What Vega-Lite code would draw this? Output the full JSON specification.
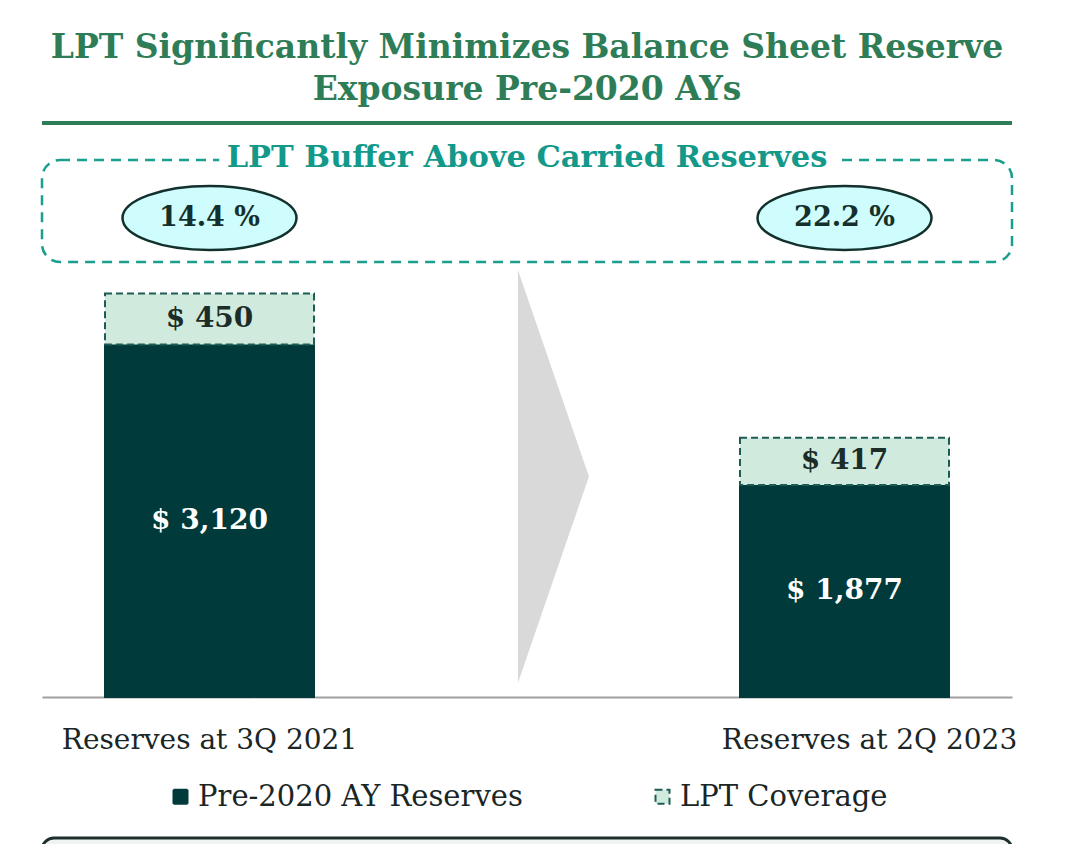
{
  "$schema": "https://vega.github.io/schema/vega-lite/v6.json",
  "autosize": {"type": "none"},
  "padding": {"left": 42, "top": 123, "right": 64, "bottom": 147},
  "width": 970,
  "height": 574,
  "background": "white",
  "title": {
    "text": ["LPT Significantly Minimizes Balance Sheet Reserve", "Exposure Pre-2020 AYs"],
    "font": "DejaVu Serif",
    "fontSize": 33,
    "fontWeight": "bold",
    "color": "#2e7d57",
    "anchor": "middle",
    "offset": 14,
    "lineHeight": 42
  },
  "datasets": {
    "reserves": [
      {"period": "Reserves at 3Q 2021", "series": "Pre-2020 AY Reserves", "rank": 1, "amount": 3120},
      {"period": "Reserves at 3Q 2021", "series": "LPT Coverage", "rank": 2, "amount": 450},
      {"period": "Reserves at 2Q 2023", "series": "Pre-2020 AY Reserves", "rank": 1, "amount": 1877},
      {"period": "Reserves at 2Q 2023", "series": "LPT Coverage", "rank": 2, "amount": 417}
    ],
    "buffer": [
      {"period": "Reserves at 3Q 2021", "pct": 0.144},
      {"period": "Reserves at 2Q 2023", "pct": 0.222}
    ],
    "notes": [
      {"period": " ", "label": "LPT Buffer Above Carried Reserves"}
    ]
  },
  "layer": [
    {
      "data": {"name": "notes"},
      "mark": {"type": "rect", "fill": "#eef4f0", "stroke": "#1f2f2d", "strokeWidth": 3, "cornerRadius": 12, "xOffset": 0, "x2Offset": 18},
      "encoding": {
        "y": {"datum": -1248, "type": "quantitative", "axis": null, "scale": {"domain": [0, 5080], "nice": false, "zero": false}},
        "y2": {"datum": -1600}
      }
    },
    {
      "data": {"name": "notes"},
      "mark": {"type": "rule", "stroke": "#2e7d57", "strokeWidth": 4},
      "encoding": {
        "y": {"datum": 5080, "type": "quantitative", "axis": null, "scale": {"domain": [0, 5080], "nice": false, "zero": false}}
      }
    },
    {
      "data": {"name": "notes"},
      "mark": {"type": "rect", "fill": "transparent", "stroke": "#1a9e8e", "strokeWidth": 2.5, "strokeDash": [10, 7], "cornerRadius": 18},
      "encoding": {
        "y": {"datum": 3850, "type": "quantitative", "axis": null, "scale": {"domain": [0, 5080], "nice": false, "zero": false}},
        "y2": {"datum": 4752}
      }
    },
    {
      "data": {"name": "notes"},
      "mark": {"type": "text", "font": "DejaVu Serif", "fontSize": 30.5, "fontWeight": "bold", "fill": "white", "stroke": "white", "strokeWidth": 18, "baseline": "middle", "align": "center"},
      "encoding": {
        "x": {"field": "period", "type": "nominal", "scale": {"domain": ["Reserves at 3Q 2021", " ", "Reserves at 2Q 2023"]}},
        "y": {"datum": 4770, "type": "quantitative", "axis": null, "scale": {"domain": [0, 5080], "nice": false, "zero": false}},
        "text": {"field": "label"}
      }
    },
    {
      "data": {"name": "notes"},
      "mark": {"type": "text", "font": "DejaVu Serif", "fontSize": 30.5, "fontWeight": "bold", "fill": "#13998a", "baseline": "middle", "align": "center"},
      "encoding": {
        "x": {"field": "period", "type": "nominal", "scale": {"domain": ["Reserves at 3Q 2021", " ", "Reserves at 2Q 2023"]}},
        "y": {"datum": 4770, "type": "quantitative", "axis": null, "scale": {"domain": [0, 5080], "nice": false, "zero": false}},
        "text": {"field": "label"}
      }
    },
    {
      "data": {"name": "notes"},
      "mark": {"type": "point", "shape": "M-0.044,-1L0.3,0L-0.044,1Z", "size": 170569, "filled": true, "fill": "#d9d9d9", "opacity": 1, "strokeWidth": 0},
      "encoding": {
        "x": {"field": "period", "type": "nominal", "scale": {"domain": ["Reserves at 3Q 2021", " ", "Reserves at 2Q 2023"]}},
        "y": {"datum": 1951, "type": "quantitative", "axis": null, "scale": {"domain": [0, 5080], "nice": false, "zero": false}}
      }
    },
    {
      "data": {"name": "reserves"},
      "mark": {"type": "bar", "strokeWidth": 2, "opacity": 1},
      "encoding": {
        "x": {"field": "period", "type": "nominal", "scale": {"domain": ["Reserves at 3Q 2021", " ", "Reserves at 2Q 2023"]}},
        "y": {"field": "amount", "type": "quantitative", "stack": "zero", "axis": null, "scale": {"domain": [0, 5080], "nice": false, "zero": false}},
        "order": {"field": "rank", "type": "quantitative"},
        "color": {"field": "series", "type": "nominal", "scale": {"domain": ["Pre-2020 AY Reserves", "LPT Coverage"], "range": ["#003a3a", "#d0ebdd"]}},
        "stroke": {"field": "series", "type": "nominal", "scale": {"domain": ["Pre-2020 AY Reserves", "LPT Coverage"], "range": ["#003a3a", "#1d5b55"]}},
        "strokeDash": {"field": "series", "type": "nominal", "scale": {"domain": ["Pre-2020 AY Reserves", "LPT Coverage"], "range": [[1, 0], [7, 4]]}}
      }
    },
    {
      "data": {"name": "reserves"},
      "mark": {"type": "text", "font": "DejaVu Serif", "fontSize": 28, "fontWeight": "bold", "baseline": "middle", "align": "center"},
      "encoding": {
        "x": {"field": "period", "type": "nominal", "scale": {"domain": ["Reserves at 3Q 2021", " ", "Reserves at 2Q 2023"]}},
        "y": {"field": "amount", "type": "quantitative", "stack": "zero", "bandPosition": 0.5, "axis": null, "scale": {"domain": [0, 5080], "nice": false, "zero": false}},
        "order": {"field": "rank", "type": "quantitative"},
        "text": {"field": "amount", "type": "quantitative", "format": "$,.0f"},
        "color": {"condition": {"test": "datum.series === 'LPT Coverage'", "value": "#1c2d29"}, "value": "white"}
      }
    },
    {
      "data": {"name": "buffer"},
      "mark": {"type": "point", "shape": "M-1,0A1,0.368,0,1,1,1,0A1,0.368,0,1,1,-1,0Z", "size": 30276, "filled": true, "fill": "#cffcfc", "stroke": "#12302c", "strokeWidth": 2.5, "opacity": 1},
      "encoding": {
        "x": {"field": "period", "type": "nominal", "scale": {"domain": ["Reserves at 3Q 2021", " ", "Reserves at 2Q 2023"]}},
        "y": {"datum": 4239, "type": "quantitative", "axis": null, "scale": {"domain": [0, 5080], "nice": false, "zero": false}}
      }
    },
    {
      "data": {"name": "buffer"},
      "mark": {"type": "text", "font": "DejaVu Serif", "fontSize": 27, "fontWeight": "bold", "fill": "#14302c", "baseline": "middle", "align": "center"},
      "encoding": {
        "x": {"field": "period", "type": "nominal", "scale": {"domain": ["Reserves at 3Q 2021", " ", "Reserves at 2Q 2023"]}},
        "y": {"datum": 4239, "type": "quantitative", "axis": null, "scale": {"domain": [0, 5080], "nice": false, "zero": false}},
        "text": {"field": "pct", "type": "quantitative", "format": ".1%"}
      }
    }
  ],
  "resolve": {"scale": {"x": "shared", "y": "shared"}},
  "config": {
    "locale": {
      "number": {"decimal": ".", "thousands": ",", "grouping": [3], "currency": ["$ ", ""], "percent": " %"}
    },
    "view": {"stroke": null},
    "scale": {"bandPaddingInner": 0.3417, "bandPaddingOuter": 0.1984},
    "axisX": {
      "title": null,
      "ticks": false,
      "domainColor": "#a0a0a0",
      "domainWidth": 2,
      "labelAngle": 0,
      "labelFont": "DejaVu Serif",
      "labelFontSize": 28,
      "labelColor": "#1a2626",
      "labelPadding": 29,
      "labelLimit": 600,
      "labelOffset": {"condition": {"test": "datum.value === 'Reserves at 2Q 2023'", "value": 25}, "value": 0}
    },
    "legend": {
      "orient": "none",
      "legendX": 124,
      "legendY": 659,
      "direction": "horizontal",
      "title": null,
      "labelFont": "DejaVu Serif",
      "labelFontSize": 29,
      "labelColor": "#1a2626",
      "labelLimit": 600,
      "labelOffset": 3,
      "symbolType": "square",
      "symbolSize": 196,
      "symbolStrokeWidth": 2,
      "columnPadding": 125
    }
  }
}
